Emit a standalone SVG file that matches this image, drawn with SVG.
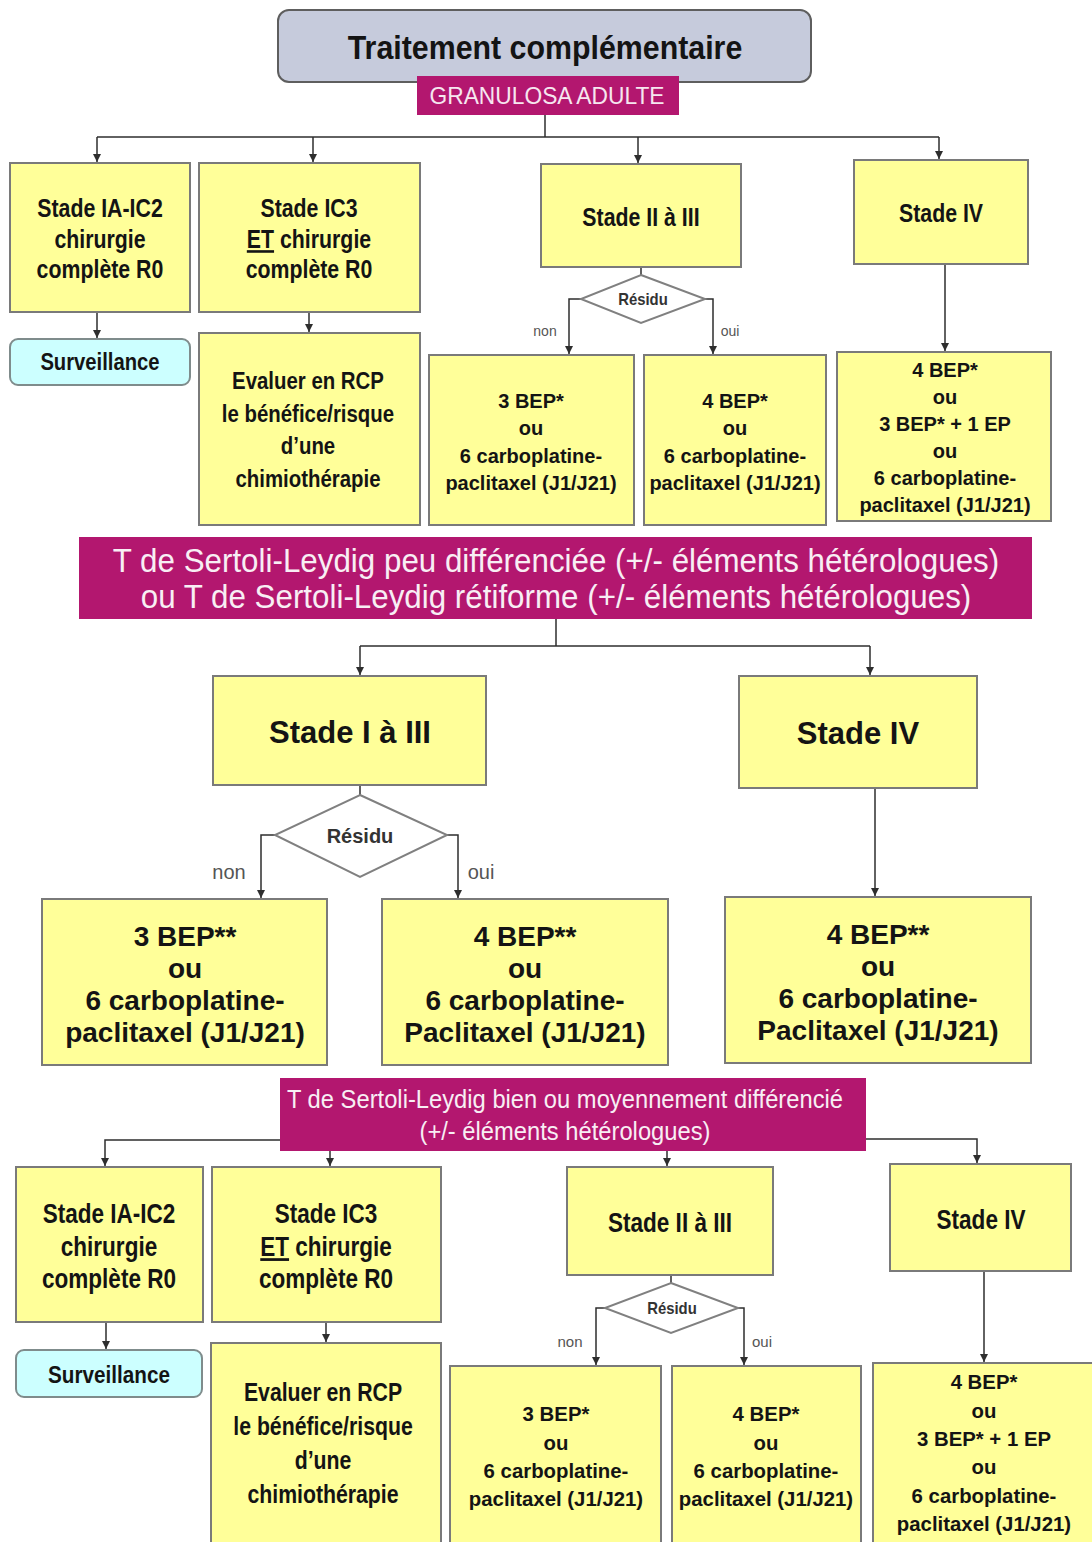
<svg xmlns="http://www.w3.org/2000/svg" width="1092" height="1542" viewBox="0 0 1092 1542">
  <defs>
    <marker id="arr" markerUnits="userSpaceOnUse" markerWidth="9" markerHeight="9" refX="8" refY="4" orient="auto">
      <path d="M0,0 L8,4 L0,8 z" fill="#2e2e2e"/>
    </marker>
    <style>
      text { font-family: "Liberation Sans", Arial, sans-serif; text-anchor: middle; fill: #141414;
             transform-box: fill-box; transform-origin: center; }
      .box { fill: #ffff99; stroke: #7a7a7a; stroke-width: 2; }
      .surv { fill: #ccffff; stroke: #7f8c8c; stroke-width: 2; }
      .band { fill: #b3176f; }
      .dia { fill: #ffffff; stroke: #808080; stroke-width: 2; }
      .ttlbox { fill: #c6cbdc; stroke: #5e5e5e; stroke-width: 2; }
      .wire { fill: none; stroke: #2e2e2e; stroke-width: 1.5; }
      .arrow { marker-end: url(#arr); }
      .b { font-weight: bold; }
      .ttl { font-size: 33px; font-weight: bold; transform: scaleX(0.92); }
      .gran { font-size: 24px; fill: #f6e6ef; transform: scaleX(0.95); }
      .ban { font-size: 33px; fill: #f8eef4; transform: scaleX(0.95); }
      .ban3 { font-size: 25px; fill: #f8eef4; transform: scaleX(0.95); }
      .st1 { font-size: 26px; font-weight: bold; transform: scaleX(0.82); }
      .st3 { font-size: 27.5px; font-weight: bold; transform: scaleX(0.82); }
      .ev1 { font-size: 24px; font-weight: bold; transform: scaleX(0.85); }
      .ev3 { font-size: 25px; font-weight: bold; transform: scaleX(0.85); }
      .sv1 { font-size: 23px; font-weight: bold; transform: scaleX(0.88); }
      .sv3 { font-size: 23.5px; font-weight: bold; transform: scaleX(0.88); }
      .bp1 { font-size: 20px; font-weight: bold; }
      .bp3 { font-size: 21px; font-weight: bold; transform: scaleX(0.97); }
      .st2 { font-size: 31px; font-weight: bold; }
      .bp2 { font-size: 28px; font-weight: bold; }
      .res1 { font-size: 16px; font-weight: bold; transform: scaleX(0.93); fill: #333; }
      .res2 { font-size: 20px; font-weight: bold; fill: #333; }
      .res3 { font-size: 16px; font-weight: bold; transform: scaleX(0.93); fill: #333; }
      .lab1 { font-size: 14px; fill: #555; }
      .lab2 { font-size: 20px; fill: #555; }
      .lab3 { font-size: 15px; fill: #555; }
      .u { text-decoration: underline; }
    </style>
  </defs>

  <rect width="1092" height="1542" fill="#ffffff"/>

  <!-- connectors -->
  <g id="connectors">
    <!-- granulosa split -->
    <path class="wire" d="M545,115 V137"/>
    <path class="wire" d="M97,137 H939"/>
    <path class="wire arrow" d="M97,137 V162"/>
    <path class="wire arrow" d="M313,137 V162"/>
    <path class="wire arrow" d="M638,137 V163"/>
    <path class="wire arrow" d="M939,137 V159"/>
    <path class="wire arrow" d="M97,313 V338"/>
    <path class="wire arrow" d="M309,313 V332"/>
    <path class="wire" d="M641,267 V275"/>
    <path class="wire arrow" d="M581,299 H569 V354"/>
    <path class="wire arrow" d="M705,299 H713 V354"/>
    <path class="wire arrow" d="M945,264 V351"/>

    <!-- poorly differentiated split -->
    <path class="wire" d="M556,619 V646"/>
    <path class="wire" d="M360,646 H870"/>
    <path class="wire arrow" d="M360,646 V675"/>
    <path class="wire arrow" d="M870,646 V675"/>
    <path class="wire" d="M360,785 V795"/>
    <path class="wire arrow" d="M275,835 H261 V898"/>
    <path class="wire arrow" d="M447,835 H458 V898"/>
    <path class="wire arrow" d="M875,788 V896"/>

    <!-- well differentiated split -->
    <path class="wire arrow" d="M280,1140 H105 V1166"/>
    <path class="wire arrow" d="M330,1151 V1166"/>
    <path class="wire arrow" d="M667,1151 V1166"/>
    <path class="wire arrow" d="M866,1139 H977 V1163"/>
    <path class="wire arrow" d="M106,1322 V1349"/>
    <path class="wire arrow" d="M326,1322 V1342"/>
    <path class="wire" d="M671,1275 V1283"/>
    <path class="wire arrow" d="M605,1308 H596 V1365"/>
    <path class="wire arrow" d="M738,1308 H744 V1365"/>
    <path class="wire arrow" d="M984,1271 V1362"/>
  </g>

  <!-- header -->
  <g id="title">
    <rect class="ttlbox" x="278" y="10" width="533" height="72" rx="11"/>
    <text class="ttl" x="545" y="59">Traitement complémentaire</text>
  </g>
  <g id="granulosa">
    <rect class="band" x="417" y="76" width="262" height="39"/>
    <text class="gran" x="547" y="104">GRANULOSA ADULTE</text>
  </g>

  <!-- granulosa branch -->
  <g id="g-ia-ic2">
    <rect class="box" x="10" y="163" width="180" height="149"/>
    <text class="st1" x="100" y="217">Stade IA-IC2</text>
    <text class="st1" x="100" y="248">chirurgie</text>
    <text class="st1" x="100" y="278">complète R0</text>
  </g>
  <g id="g-ic3">
    <rect class="box" x="199" y="163" width="221" height="149"/>
    <text class="st1" x="309" y="217">Stade IC3</text>
    <text class="st1" x="309" y="248"><tspan class="u">ET</tspan> chirurgie</text>
    <text class="st1" x="309" y="278">complète R0</text>
  </g>
  <g id="g-surveillance">
    <rect class="surv" x="10" y="339" width="180" height="46" rx="8"/>
    <text class="sv1" x="100" y="370">Surveillance</text>
  </g>
  <g id="g-rcp">
    <rect class="box" x="199" y="333" width="221" height="192"/>
    <text class="ev1" x="308" y="389">Evaluer en RCP</text>
    <text class="ev1" x="308" y="422">le bénéfice/risque</text>
    <text class="ev1" x="308" y="454">d’une</text>
    <text class="ev1" x="308" y="487">chimiothérapie</text>
  </g>
  <g id="g-ii-iii">
    <rect class="box" x="541" y="164" width="200" height="103"/>
    <text class="st1" x="641" y="226">Stade II à III</text>
  </g>
  <g id="g-residu">
    <polygon class="dia" points="641,275 705,299 641,323 581,299"/>
    <text class="res1" x="643" y="305">Résidu</text>
    <text class="lab1" x="545" y="336">non</text>
    <text class="lab1" x="730" y="336">oui</text>
  </g>
  <g id="g-3bep">
    <rect class="box" x="429" y="355" width="205" height="170"/>
    <text class="bp1" x="531" y="408">3 BEP*</text>
    <text class="bp1" x="531" y="435">ou</text>
    <text class="bp1" x="531" y="463">6 carboplatine-</text>
    <text class="bp1" x="531" y="490">paclitaxel (J1/J21)</text>
  </g>
  <g id="g-4bep">
    <rect class="box" x="644" y="355" width="182" height="170"/>
    <text class="bp1" x="735" y="408">4 BEP*</text>
    <text class="bp1" x="735" y="435">ou</text>
    <text class="bp1" x="735" y="463">6 carboplatine-</text>
    <text class="bp1" x="735" y="490">paclitaxel (J1/J21)</text>
  </g>
  <g id="g-iv">
    <rect class="box" x="854" y="160" width="174" height="104"/>
    <text class="st1" x="941" y="222">Stade IV</text>
  </g>
  <g id="g-iv-tt">
    <rect class="box" x="837" y="352" width="214" height="169"/>
    <text class="bp1" x="945" y="377">4 BEP*</text>
    <text class="bp1" x="945" y="404">ou</text>
    <text class="bp1" x="945" y="431">3 BEP* + 1 EP</text>
    <text class="bp1" x="945" y="458">ou</text>
    <text class="bp1" x="945" y="485">6 carboplatine-</text>
    <text class="bp1" x="945" y="512">paclitaxel (J1/J21)</text>
  </g>

  <!-- poorly differentiated / retiform Sertoli-Leydig -->
  <g id="sl-peu">
    <rect class="band" x="79" y="537" width="953" height="82"/>
    <text class="ban" x="556" y="572">T de Sertoli-Leydig peu différenciée (+/- éléments hétérologues)</text>
    <text class="ban" x="556" y="608">ou T de Sertoli-Leydig rétiforme (+/- éléments hétérologues)</text>
  </g>
  <g id="p-i-iii">
    <rect class="box" x="213" y="676" width="273" height="109"/>
    <text class="st2" x="350" y="743">Stade I à III</text>
  </g>
  <g id="p-residu">
    <polygon class="dia" points="360,795 447,835 360,877 275,835"/>
    <text class="res2" x="360" y="843">Résidu</text>
    <text class="lab2" x="229" y="879">non</text>
    <text class="lab2" x="481" y="879">oui</text>
  </g>
  <g id="p-3bep">
    <rect class="box" x="42" y="899" width="285" height="166"/>
    <text class="bp2" x="185" y="946">3 BEP**</text>
    <text class="bp2" x="185" y="978">ou</text>
    <text class="bp2" x="185" y="1010">6 carboplatine-</text>
    <text class="bp2" x="185" y="1042">paclitaxel (J1/J21)</text>
  </g>
  <g id="p-4bep">
    <rect class="box" x="382" y="899" width="286" height="166"/>
    <text class="bp2" x="525" y="946">4 BEP**</text>
    <text class="bp2" x="525" y="978">ou</text>
    <text class="bp2" x="525" y="1010">6 carboplatine-</text>
    <text class="bp2" x="525" y="1042">Paclitaxel (J1/J21)</text>
  </g>
  <g id="p-iv">
    <rect class="box" x="739" y="676" width="238" height="112"/>
    <text class="st2" x="858" y="744">Stade IV</text>
  </g>
  <g id="p-iv-tt">
    <rect class="box" x="725" y="897" width="306" height="166"/>
    <text class="bp2" x="878" y="944">4 BEP**</text>
    <text class="bp2" x="878" y="976">ou</text>
    <text class="bp2" x="878" y="1008">6 carboplatine-</text>
    <text class="bp2" x="878" y="1040">Paclitaxel (J1/J21)</text>
  </g>

  <!-- well / moderately differentiated Sertoli-Leydig -->
  <g id="sl-bien">
    <rect class="band" x="280" y="1078" width="586" height="73"/>
    <text class="ban3" x="565" y="1108">T de Sertoli-Leydig bien ou moyennement différencié</text>
    <text class="ban3" x="565" y="1140">(+/- éléments hétérologues)</text>
  </g>
  <g id="w-ia-ic2">
    <rect class="box" x="16" y="1167" width="187" height="155"/>
    <text class="st3" x="109" y="1223">Stade IA-IC2</text>
    <text class="st3" x="109" y="1256">chirurgie</text>
    <text class="st3" x="109" y="1288">complète R0</text>
  </g>
  <g id="w-ic3">
    <rect class="box" x="212" y="1167" width="229" height="155"/>
    <text class="st3" x="326" y="1223">Stade IC3</text>
    <text class="st3" x="326" y="1256"><tspan class="u">ET</tspan> chirurgie</text>
    <text class="st3" x="326" y="1288">complète R0</text>
  </g>
  <g id="w-surveillance">
    <rect class="surv" x="16" y="1350" width="186" height="47" rx="8"/>
    <text class="sv3" x="109" y="1383">Surveillance</text>
  </g>
  <g id="w-rcp">
    <rect class="box" x="211" y="1343" width="230" height="210"/>
    <text class="ev3" x="323" y="1401">Evaluer en RCP</text>
    <text class="ev3" x="323" y="1435">le bénéfice/risque</text>
    <text class="ev3" x="323" y="1469">d’une</text>
    <text class="ev3" x="323" y="1503">chimiothérapie</text>
  </g>
  <g id="w-ii-iii">
    <rect class="box" x="567" y="1167" width="206" height="108"/>
    <text class="st3" x="670" y="1232">Stade II à III</text>
  </g>
  <g id="w-residu">
    <polygon class="dia" points="671,1283 738,1308 671,1333 605,1308"/>
    <text class="res3" x="672" y="1314">Résidu</text>
    <text class="lab3" x="570" y="1347">non</text>
    <text class="lab3" x="762" y="1347">oui</text>
  </g>
  <g id="w-3bep">
    <rect class="box" x="450" y="1366" width="211" height="190"/>
    <text class="bp3" x="556" y="1421">3 BEP*</text>
    <text class="bp3" x="556" y="1450">ou</text>
    <text class="bp3" x="556" y="1478">6 carboplatine-</text>
    <text class="bp3" x="556" y="1506">paclitaxel (J1/J21)</text>
  </g>
  <g id="w-4bep">
    <rect class="box" x="672" y="1366" width="189" height="190"/>
    <text class="bp3" x="766" y="1421">4 BEP*</text>
    <text class="bp3" x="766" y="1450">ou</text>
    <text class="bp3" x="766" y="1478">6 carboplatine-</text>
    <text class="bp3" x="766" y="1506">paclitaxel (J1/J21)</text>
  </g>
  <g id="w-iv">
    <rect class="box" x="890" y="1164" width="181" height="107"/>
    <text class="st3" x="981" y="1229">Stade IV</text>
  </g>
  <g id="w-iv-tt">
    <rect class="box" x="873" y="1363" width="230" height="190"/>
    <text class="bp3" x="984" y="1389">4 BEP*</text>
    <text class="bp3" x="984" y="1418">ou</text>
    <text class="bp3" x="984" y="1446">3 BEP* + 1 EP</text>
    <text class="bp3" x="984" y="1474">ou</text>
    <text class="bp3" x="984" y="1503">6 carboplatine-</text>
    <text class="bp3" x="984" y="1531">paclitaxel (J1/J21)</text>
  </g>
</svg>
